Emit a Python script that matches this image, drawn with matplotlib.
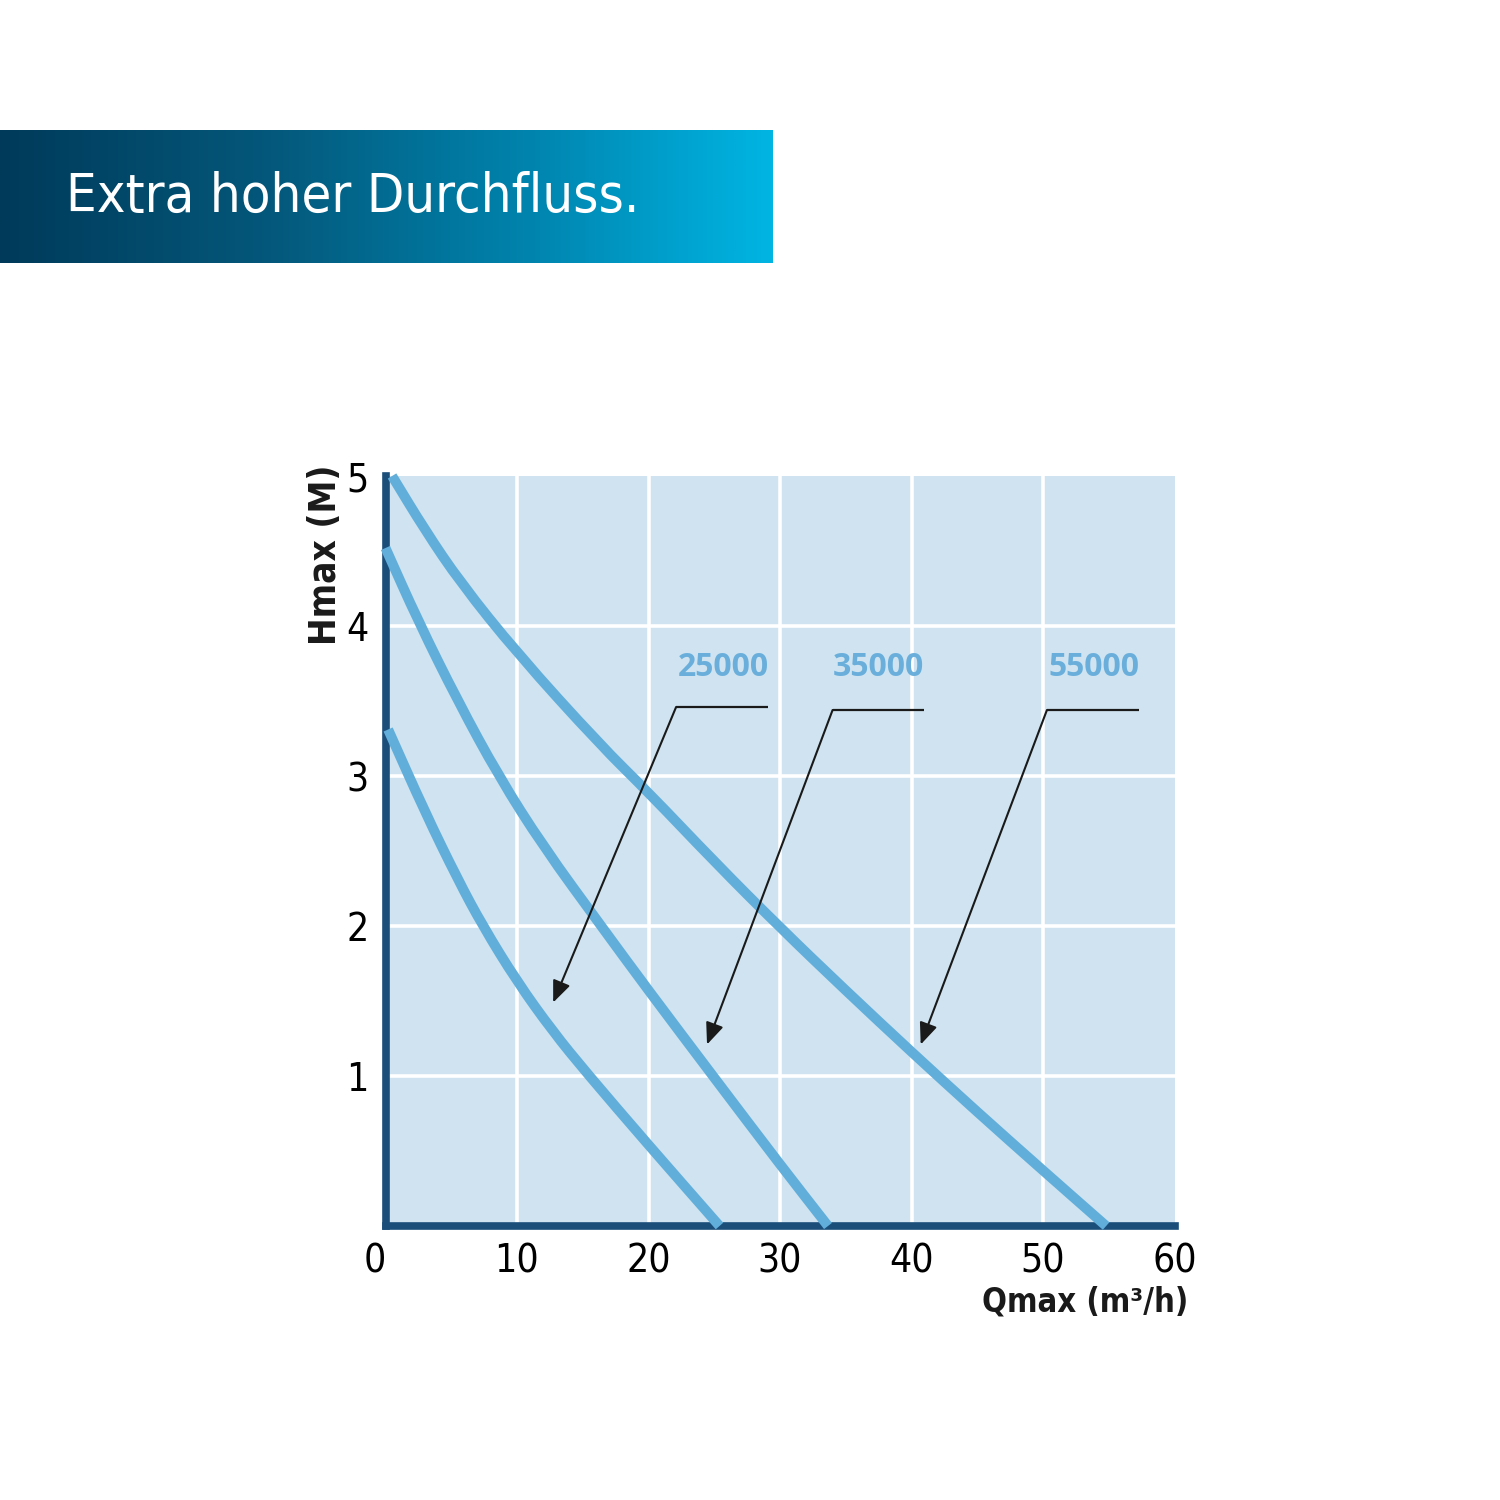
import numpy as np
import matplotlib
matplotlib.use("Agg")
import matplotlib.pyplot as plt
from matplotlib import font_manager as fm
from matplotlib.colors import LinearSegmentedColormap
from matplotlib.path import Path
from matplotlib.patches import PathPatch

# ---------------- data ----------------
x_ticks = [0, 10, 20, 30, 40, 50, 60]
y_ticks = [1, 2, 3, 4, 5]

q_55000 = [0.5, 3.0, 5.7, 10.0, 16.3, 20.0, 25.0, 30.0, 35.0, 40.0, 45.0, 50.0, 54.8]
h_55000 = [5.0, 4.64, 4.29, 3.82, 3.21, 2.89, 2.43, 1.99, 1.57, 1.16, 0.76, 0.37, 0.0]

q_35000 = [0.0, 2.5, 5.5, 8.6, 12.0, 16.4, 20.0, 24.9, 30.0, 33.65]
h_35000 = [4.52, 4.03, 3.50, 3.00, 2.53, 2.00, 1.57, 1.00, 0.41, 0.0]

q_25000 = [0.2, 3.0, 5.5, 7.4, 10.0, 12.7, 15.3, 20.0, 25.4]
h_25000 = [3.31, 2.76, 2.31, 2.00, 1.63, 1.30, 1.02, 0.54, 0.0]

series_names = ["25000", "35000", "55000"]
series_q = [q_25000, q_35000, q_55000]
series_h = [h_25000, h_35000, h_55000]

# leader lines: label position, corner, end of horizontal, arrow tip
label_pos = [(25.7, 3.72), (37.45, 3.72), (53.9, 3.72)]
leader_corner = [(22.1, 3.46), (34.0, 3.44), (50.3, 3.44)]
leader_end_x = [29.1, 40.95, 57.3]
arrow_tip = [(12.75, 1.49), (24.45, 1.21), (40.7, 1.21)]

title = "Extra hoher Durchfluss."
x_label = "Qmax (m³/h)"
y_label = "Hmax (M)"

# ---------------- fonts ----------------
def pick_narrow(bold):
    best = None
    for f in fm.fontManager.ttflist:
        n = f.name.lower()
        narrow = ("narrow" in n) or ("condensed" in n) or (str(f.stretch) in ("condensed", "semi-condensed", "75", "87"))
        if not narrow:
            continue
        w = f.weight
        try:
            w = int(w)
        except Exception:
            w = 700 if "bold" in str(w) else 400
        is_bold = w >= 600
        if "italic" in str(f.style) or "oblique" in str(f.style):
            continue
        if is_bold == bold:
            if best is None or ("liberation" in n and "liberation" not in best.name.lower()):
                best = f
    return best

nr = pick_narrow(False)
nb = pick_narrow(True)
if nr is not None and nb is not None:
    fp_reg = fm.FontProperties(fname=nr.fname)
    fp_bold = fm.FontProperties(fname=nb.fname)
    fs_title, fs_tick, fs_ylab, fs_xlab = 39, 28, 26.5, 23.5
else:
    fp_reg = fm.FontProperties(family="Open Sans")
    fp_bold = fm.FontProperties(family="Open Sans", weight="bold")
    fs_title, fs_tick, fs_ylab, fs_xlab = 36, 22, 25, 23
fp_lab = fm.FontProperties(family="Open Sans", weight="bold")

# ---------------- colours ----------------
bg_plot = "#cfe4f0"
curve_c = "#62aedb"
spine_c = "#1b4f7a"
label_c = "#6aafdc"

W = H = 1500
fig = plt.figure(figsize=(15, 15), dpi=100)
fig.patch.set_facecolor("white")

# ---------------- banner ----------------
bax = fig.add_axes([0, 1 - 263 / H, 773 / W, 133 / H])
cmap = LinearSegmentedColormap.from_list(
    "banner", [(0, "#003a5a"), (0.35, "#04587b"), (0.7, "#0086b0"), (1, "#00b5e3")])
bax.imshow(np.linspace(0, 1, 512)[None, :], aspect="auto", cmap=cmap,
           extent=[0, 1, 0, 1])
bax.set_axis_off()
fig.text(66 / W, 1 - 197 / H, title, color="white", fontproperties=fp_reg,
         fontsize=fs_title, va="center", ha="left")

# ---------------- chart ----------------
x0, x1 = 385.5, 1174.5
y0, y1 = 1226, 476
ax = fig.add_axes([x0 / W, 1 - y0 / H, (x1 - x0) / W, (y0 - y1) / H])
ax.set_facecolor(bg_plot)
ax.set_xlim(0, 60)
ax.set_ylim(0, 5)

for xv in x_ticks[1:-1]:
    ax.axvline(xv, color="white", lw=2.6, zorder=1)
for yv in y_ticks[:-1]:
    ax.axhline(yv, color="white", lw=2.6, zorder=1)


def smooth_path(xs, ys):
    """Quadratic-Bezier path through the midpoints of the read points."""
    pts = list(zip(xs, ys))
    verts = [pts[0]]
    codes = [Path.MOVETO]
    mid = lambda a, b: ((a[0] + b[0]) / 2, (a[1] + b[1]) / 2)
    verts.append(mid(pts[0], pts[1]))
    codes.append(Path.LINETO)
    for i in range(1, len(pts) - 1):
        verts += [pts[i], mid(pts[i], pts[i + 1])]
        codes += [Path.CURVE3, Path.CURVE3]
    verts.append(pts[-1])
    codes.append(Path.LINETO)
    return Path(verts, codes)


for q, h in zip(series_q, series_h):
    patch = PathPatch(smooth_path(q, h), facecolor="none", edgecolor=curve_c,
                      lw=7.2, capstyle="butt", joinstyle="round",
                      transform=ax.transData, zorder=4, clip_on=False)
    ax.add_patch(patch)

for name, lp, corner, ex, tip in zip(series_names, label_pos, leader_corner,
                                     leader_end_x, arrow_tip):
    ax.text(lp[0], lp[1], name, color=label_c, fontproperties=fp_lab,
            fontsize=23, ha="center", va="center", zorder=5)
    ax.plot([corner[0], ex], [corner[1], corner[1]], color="#1a1a1a",
            lw=1.6, zorder=5, solid_capstyle="butt")
    ax.annotate("", xy=tip, xytext=corner,
                arrowprops=dict(arrowstyle="-|>,head_length=0.6,head_width=0.25",
                                color="#1a1a1a", lw=1.5, mutation_scale=22,
                                shrinkA=0, shrinkB=0),
                zorder=5)

for s in ["top", "right"]:
    ax.spines[s].set_visible(False)
for s in ["left", "bottom"]:
    ax.spines[s].set_color(spine_c)
    ax.spines[s].set_linewidth(5.5)
    ax.spines[s].set_zorder(3)

ax.set_xticks(x_ticks)
ax.set_yticks(y_ticks)
ax.tick_params(length=0)
ax.set_xticklabels([str(v) for v in x_ticks])
ax.set_yticklabels([str(v) for v in y_ticks])
for lbl in ax.get_xticklabels():
    lbl.set_fontproperties(fp_reg)
    lbl.set_fontsize(fs_tick)
for lbl in ax.get_yticklabels():
    lbl.set_fontproperties(fp_reg)
    lbl.set_fontsize(fs_tick)
ax.get_xticklabels()[0].set_ha("right")
ax.tick_params(axis="x", pad=12)
ax.tick_params(axis="y", pad=12)

fig.text(1188 / W, 1 - 1302 / H, x_label, fontproperties=fp_bold,
         fontsize=fs_xlab, ha="right", va="center", color="#1a1a1a")
fig.text(325 / W, 1 - 555 / H, y_label, fontproperties=fp_bold,
         fontsize=fs_ylab, ha="center", va="center", rotation=90, color="#1a1a1a")

fig.savefig("out.png", dpi=100, facecolor="white")
